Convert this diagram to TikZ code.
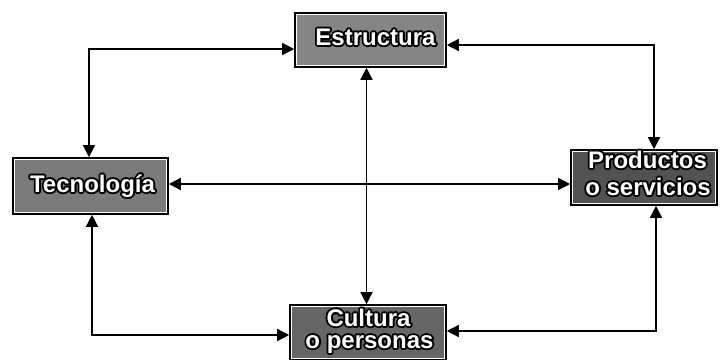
\documentclass[tikz,border=0pt]{standalone}
\usepackage{fontspec}
\setmainfont{Liberation Sans}
\usetikzlibrary{arrows.meta}
\newcommand\blacktext[1]{{\color{black}\special{pdf:literal direct 0 G 3.8 w 1 j 2 Tr}#1\special{pdf:literal direct 0 Tr}}}
\newcommand\whitetext[1]{{\color{white}#1}}
\begin{document}
\begin{tikzpicture}[x=1pt,y=-1pt,
  boxst/.style={draw=black,line width=1.6pt,inner sep=0pt},
  lbl/.style={inner sep=0pt,anchor=base,font=\fontsize{24}{28}\selectfont\bfseries},
  biarr/.style={line width=1.5pt,{Triangle[length=12pt,width=12pt]}-{Triangle[length=12pt,width=12pt]}}]
\useasboundingbox (0,0) rectangle (722,359);
\node[boxst,fill=black!48,minimum width=151pt,minimum height=54pt] (est) at (370.5,40) {};
\node[boxst,fill=black!52,minimum width=155pt,minimum height=56pt] (tec) at (90.5,186) {};
\node[boxst,fill=black!68,minimum width=146pt,minimum height=55pt] (prod) at (644,177.5) {};
\node[boxst,fill=black!60,minimum width=156pt,minimum height=55pt] (cul) at (368,332.5) {};
% inner white lines
\foreach \b in {est,tec,prod,cul}{
  \draw[white,line width=0.7pt] ([shift={(2.2pt,2.2pt)}]\b.south west) rectangle ([shift={(-2.2pt,-2.2pt)}]\b.north east);
}
% labels: black outline then white fill
\foreach \nm/\b/\dx/\dy/\t in {estl/est/5/-5/Estructura, tecl/tec/2/-6/Tecnología, prodla/prod/3.5/9.5/Productos, prodlb/prod/4/-17.5/o servicios, culla/cul/0.5/6.5/Cultura, cullb/cul/1.5/-15.5/o personas}{
  \node[lbl] (\nm o) at ([shift={(\dx pt,\dy pt)}]\b.center) {\blacktext{\t}};
  \node[lbl] (\nm) at ([shift={(\dx pt,\dy pt)}]\b.center) {\whitetext{\t}};
}
% connectors
\draw[biarr] ([yshift=-9pt]est.west) -| ([xshift=-1.5pt]tec.north);
\draw[biarr] ([yshift=-5pt]est.east) -| ([xshift=10pt]prod.north);
\draw[biarr] ([xshift=1.5pt]tec.south) |- ([yshift=-2.5pt]cul.west);
\draw[biarr] ([xshift=12pt]prod.south) |- ([yshift=1.5pt]cul.east);
\draw[biarr] ([yshift=2pt]tec.east) -- ([yshift=-6.5pt]prod.west);
\draw[biarr] ([xshift=-4pt]est.south) -- ([xshift=-1.5pt]cul.north);
\end{tikzpicture}
\end{document}
